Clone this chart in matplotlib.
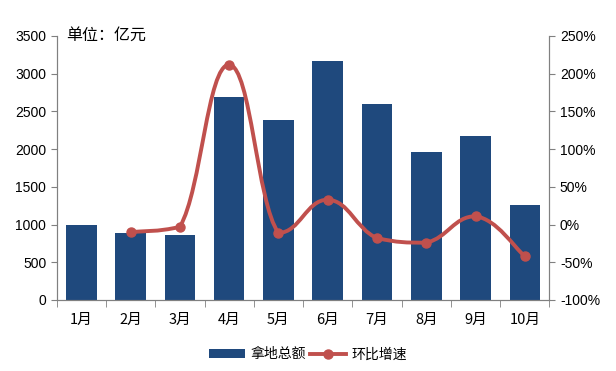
import matplotlib
matplotlib.use("Agg")
import matplotlib.pyplot as plt
import numpy as np
from matplotlib.path import Path
from matplotlib.patches import PathPatch, Patch
from matplotlib.lines import Line2D

plt.rcParams['font.family'] = ['Liberation Sans', 'Noto Sans CJK SC', 'DejaVu Sans']

months = ["1月", "2月", "3月", "4月", "5月", "6月", "7月", "8月", "9月", "10月"]
land_total = [1000, 890, 860, 2690, 2390, 3170, 2600, 1960, 2175, 1260]
mom_growth = [None, -10, -3, 212, -11, 33, -18, -24, 11, -42]

bar_color = "#1F497D"
line_color = "#C0504D"
spine_color = "#808080"

fig = plt.figure(figsize=(6.16, 3.71), dpi=100)
ax = fig.add_axes([0.092, 0.1914, 0.8, 0.7116])
ax2 = ax.twinx()

x = np.arange(len(months))
ax.bar(x, land_total, width=0.62, color=bar_color, zorder=2)
ax.set_xlim(-0.5, len(months) - 0.5)
ax.set_ylim(0, 3500)
ax.set_yticks(np.arange(0, 3501, 500))
ax.set_xticks(x)
ax.set_xticklabels(months, fontsize=10.5, family=['Noto Sans CJK SC', 'DejaVu Sans'])
ax.tick_params(axis='x', length=0, pad=9)
ax.set_xticks(np.arange(-0.5, len(months) + 0.5, 1), minor=True)
ax.tick_params(axis='x', which='minor', length=5, color=spine_color, direction='out')
ax.tick_params(axis='y', length=4, color=spine_color, labelsize=10, direction='out')

ax2.set_ylim(-100, 250)
ax2.set_yticks(np.arange(-100, 251, 50))
ax2.set_yticklabels([f"{v}%" for v in range(-100, 251, 50)])
ax2.tick_params(axis='y', length=4, color=spine_color, labelsize=10, direction='out')

for a in (ax, ax2):
    a.spines['top'].set_visible(False)
    for s in ('left', 'right', 'bottom'):
        a.spines[s].set_color(spine_color)
        a.spines[s].set_linewidth(0.8)

# smooth monotone-clamped curve (cubic Bezier) through the data points
pts = [(xi, yi) for xi, yi in zip(x, mom_growth) if yi is not None]
pts = np.array(pts, dtype=float)
verts = [tuple(pts[0])]
codes = [Path.MOVETO]
n = len(pts)
t = 0.22
for i in range(n - 1):
    p0 = pts[i - 1] if i > 0 else pts[i]
    p1 = pts[i]
    p2 = pts[i + 1]
    p3 = pts[i + 2] if i + 2 < n else pts[i + 1]
    c1 = p1 + (p2 - p0) * t
    c2 = p2 - (p3 - p1) * t
    lo, hi = min(p1[1], p2[1]), max(p1[1], p2[1])
    c1[1] = np.clip(c1[1], lo, hi)
    c2[1] = np.clip(c2[1], lo, hi)
    verts += [tuple(c1), tuple(c2), tuple(p2)]
    codes += [Path.CURVE4] * 3
path = Path(verts, codes)
ax2.add_patch(PathPatch(path, facecolor='none', edgecolor=line_color, lw=2.8,
                        capstyle='round', joinstyle='round', zorder=3))
ax2.plot(pts[:, 0], pts[:, 1], linestyle='none', marker='o', markersize=6.5,
         color=line_color, zorder=4)

fig.text(0.107, 0.905, "单位：亿元", fontsize=11.5,
         family=['Noto Sans CJK SC', 'DejaVu Sans'], ha='left', va='center')

handles = [Patch(facecolor=bar_color, edgecolor='none'),
           Line2D([0], [0], color=line_color, lw=2.8, marker='o', markersize=6.5)]
fig.legend(handles, ["拿地总额", "环比增速"], loc='center', bbox_to_anchor=(0.5, 0.045),
           ncol=2, frameon=False, prop={'family': ['Noto Sans CJK SC', 'DejaVu Sans'], 'size': 10},
           handlelength=2.6, handletextpad=0.4, columnspacing=0.3, handleheight=0.6)

fig.savefig("out.png", dpi=100)
